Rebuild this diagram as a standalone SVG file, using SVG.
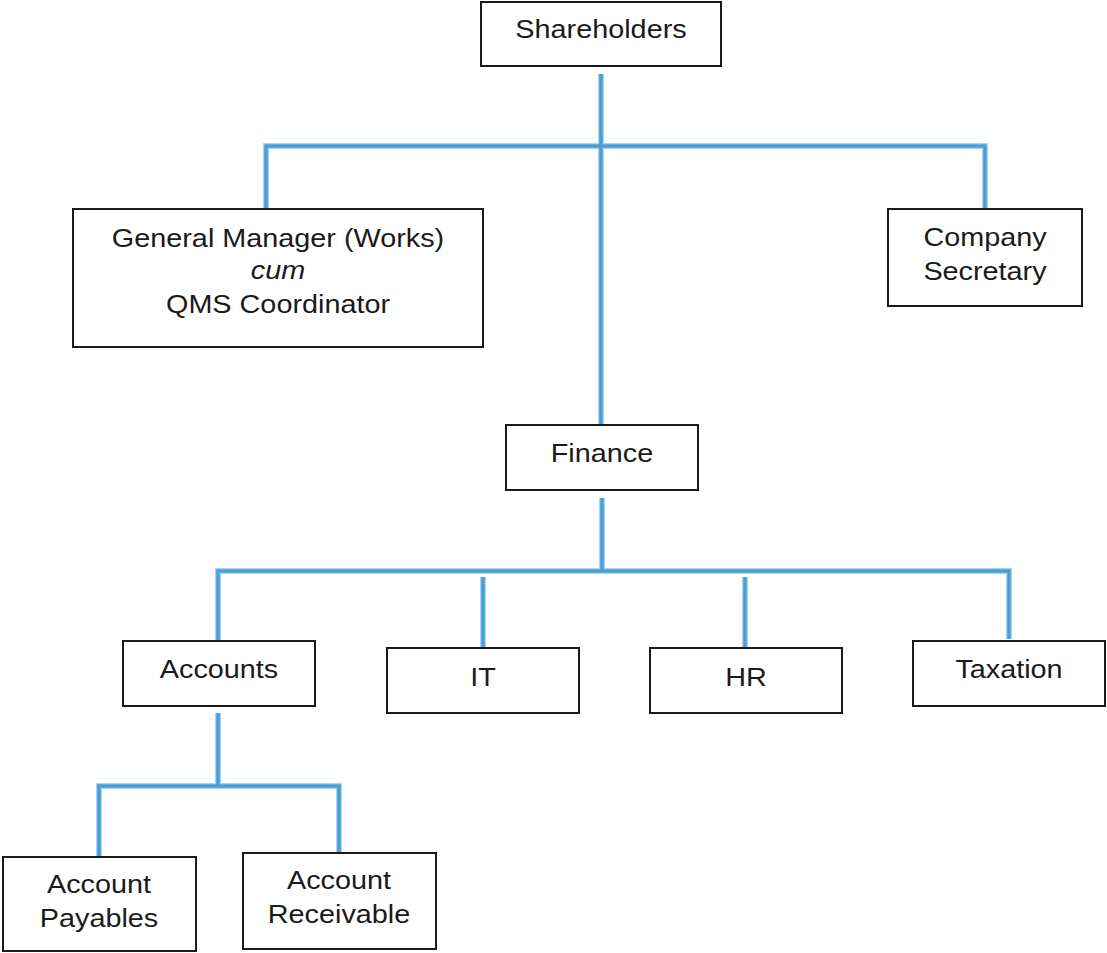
<svg xmlns="http://www.w3.org/2000/svg" width="1107" height="953" viewBox="0 0 1107 953">
<style>
.box{fill:#fff;stroke:#1a1a1a;stroke-width:2}
.lbl{font-family:"Liberation Sans",Arial,sans-serif;font-size:25.5px;fill:#1a1a1a;text-anchor:middle}
.it{font-style:italic}
.halo{fill:none;stroke:#a9d3f0;stroke-width:6;stroke-linejoin:miter}
.wire{fill:none;stroke:#4a9fd8;stroke-width:3.5;stroke-linejoin:miter}
</style>
<rect width="1107" height="953" fill="#fff"/>
<g id="connectors">
<g class="halo">
<path d="M601 74V425"/>
<path d="M266 209V146H985V209"/>
<path d="M602 498V571"/>
<path d="M218 641V571H1009V639"/>
<path d="M483 577V648"/>
<path d="M745 577V648"/>
<path d="M218 713V786"/>
<path d="M99 856V786H339V853"/>
</g>
<g class="wire">
<path d="M601 74V425"/>
<path d="M266 209V146H985V209"/>
<path d="M602 498V571"/>
<path d="M218 641V571H1009V639"/>
<path d="M483 577V648"/>
<path d="M745 577V648"/>
<path d="M218 713V786"/>
<path d="M99 856V786H339V853"/>
</g>
</g>
<g id="shareholders">
<rect class="box" x="481" y="2" width="240" height="64"/>
<text class="lbl" transform="translate(601 38) scale(1.13 1)">Shareholders</text>
</g>
<g id="general-manager">
<rect class="box" x="73" y="209" width="410" height="138"/>
<text class="lbl" transform="translate(278 247) scale(1.13 1)"><tspan x="0" y="0">General Manager (Works)</tspan><tspan class="it" x="0" y="32">cum</tspan><tspan x="0" y="66">QMS Coordinator</tspan></text>
</g>
<g id="company-secretary">
<rect class="box" x="888" y="209" width="194" height="97"/>
<text class="lbl" transform="translate(985 246) scale(1.13 1)"><tspan x="0" y="0">Company</tspan><tspan x="0" y="34">Secretary</tspan></text>
</g>
<g id="finance">
<rect class="box" x="506" y="425" width="192" height="65"/>
<text class="lbl" transform="translate(602 462) scale(1.13 1)">Finance</text>
</g>
<g id="accounts">
<rect class="box" x="123" y="641" width="192" height="65"/>
<text class="lbl" transform="translate(219 678) scale(1.13 1)">Accounts</text>
</g>
<g id="it">
<rect class="box" x="387" y="648" width="192" height="65"/>
<text class="lbl" transform="translate(483 686) scale(1.13 1)">IT</text>
</g>
<g id="hr">
<rect class="box" x="650" y="648" width="192" height="65"/>
<text class="lbl" transform="translate(746 686) scale(1.13 1)">HR</text>
</g>
<g id="taxation">
<rect class="box" x="913" y="641" width="192" height="65"/>
<text class="lbl" transform="translate(1009 678) scale(1.13 1)">Taxation</text>
</g>
<g id="account-payables">
<rect class="box" x="3" y="857" width="193" height="94"/>
<text class="lbl" transform="translate(99 893) scale(1.13 1)"><tspan x="0" y="0">Account</tspan><tspan x="0" y="34">Payables</tspan></text>
</g>
<g id="account-receivable">
<rect class="box" x="243" y="853" width="193" height="96"/>
<text class="lbl" transform="translate(339 889) scale(1.13 1)"><tspan x="0" y="0">Account</tspan><tspan x="0" y="34">Receivable</tspan></text>
</g>
</svg>
